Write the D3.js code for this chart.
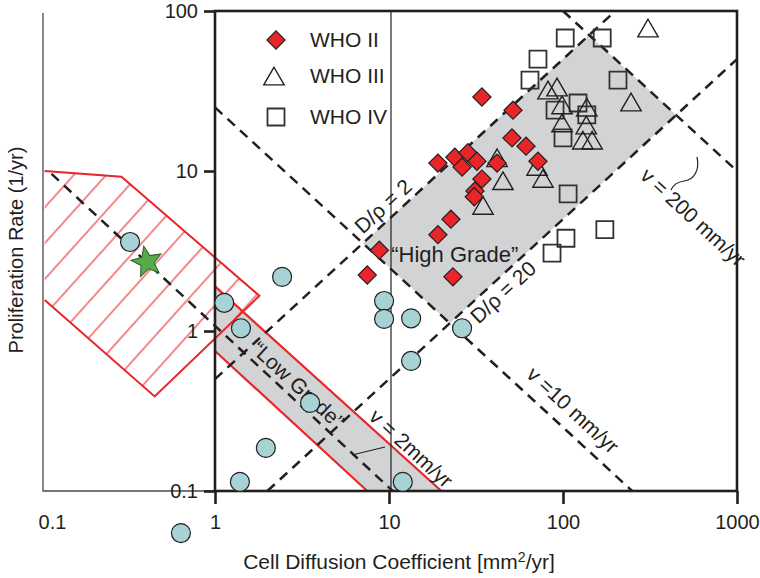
<!DOCTYPE html>
<html>
<head>
<meta charset="utf-8">
<script src="https://cdn.jsdelivr.net/npm/d3@7"></script>
<style>
  body { margin: 0; background: #fff; }
  svg text { font-family: "Liberation Sans", Arial, Helvetica, sans-serif; fill: #231f20; }
</style>
</head>
<body>
<svg id="chart" width="760" height="578"></svg>
<script>
// ---- data: [D (mm^2/yr), rho (1/yr)] ----
const xTicks = [0.1, 1, 10, 100, 1000];
const yTicks = [0.1, 1, 10, 100];

const who2 = [[34.2, 29.0], [51.6, 24.0], [50.9, 16.1], [61.3, 14.3], [71.8, 11.5], [41.8, 11.2],
  [19.1, 11.2], [23.9, 12.2], [28.4, 13.0], [32.0, 11.5], [26.3, 10.6], [34.2, 8.9], [31.2, 7.5],
  [30.9, 6.9], [22.7, 5.0], [19.1, 4.0], [8.8, 3.2], [7.5, 2.24], [23.3, 2.18]];
const who3 = [[308, 78.3], [82, 32.1], [92.4, 33.5], [98.7, 25.9], [137, 25.1], [246, 27.0],
  [98.7, 20.0], [136, 19.4], [130, 15.6], [147, 15.6], [41.8, 12.1], [45.2, 8.7], [34.7, 6.1],
  [70.9, 10.7], [76.7, 9.0]];
const who4 = [[103, 67.8], [168, 67.8], [71.8, 50.1], [64.6, 37.0], [207, 37.0], [90, 24.0],
  [122, 26.6], [137, 22.4], [100, 16.1], [107, 7.2], [174, 4.3], [104, 3.8], [86.5, 3.07]];
const otherCases = [[0.325, 3.6], [1.13, 1.5], [1.41, 1.04], [2.43, 2.18], [9.37, 1.54], [9.37, 1.19],
  [13.4, 1.2], [13.4, 0.65], [26.3, 1.04], [3.52, 0.355], [1.96, 0.186], [1.39, 0.114], [12.0, 0.114],
  [0.637, 0.0546]];
const starCase = [0.407, 2.7];

// regions
const highGrade = [[7.07, 3.54], [141, 70.7], [447, 22.4], [22.4, 1.12]];
const lowGrade = [[1, 1.9], [20, 0.1], [7.5, 0.1], [1, 0.75]];
const hatchZone = [[0.105, 10], [0.29, 9.2], [1.8, 1.66], [0.45, 0.39], [0.105, 1.56]];

// guide lines: D/rho constant (rising), v = 2 sqrt(D rho) constant (falling)
const guideLines = [
  [[1, 0.5], [200, 100]],      // D/rho = 2
  [[2, 0.1], [1000, 50]],      // D/rho = 20
  [[0.115, 9.6], [10.5, 0.1]], // v = 2
  [[1, 25], [250, 0.1]],       // v = 10
  [[100, 100], [1000, 10]]     // v = 200
];

const legendItems = ['WHO II', 'WHO III', 'WHO IV'];

// ---- layout ----
const x = d3.scaleLog().domain([0.1, 1000]).range([41, 737]);
const y = d3.scaleLog().domain([0.1, 100]).range([491, 11]);
const ink = '#231f20', red = '#e8262a', grey = '#d2d3d4';
const ang = Math.atan2(y(1) - y(10), x(10) - x(1)) * 180 / Math.PI;

const svg = d3.select('#chart');
const defs = svg.append('defs');
defs.append('pattern').attr('id', 'hatch').attr('patternUnits', 'userSpaceOnUse')
  .attr('width', 24).attr('height', 24).attr('patternTransform', 'rotate(42)')
  .append('line').attr('x1', 4).attr('y1', 0).attr('x2', 4).attr('y2', 24)
  .attr('stroke', red).attr('stroke-width', 1.1);

const line = d3.line().x(d => x(d[0])).y(d => y(d[1]));
const poly = pts => line(pts) + 'Z';

// grey bands
svg.append('path').attr('d', poly(highGrade)).attr('fill', grey);
svg.append('path').attr('d', poly(lowGrade)).attr('fill', grey);

// hatched region (left side sits on the thin axis, so no red edge there)
svg.append('path').attr('d', poly(hatchZone)).attr('fill', 'url(#hatch)');
svg.append('path').attr('d', line(hatchZone)).attr('fill', 'none')
  .attr('stroke', red).attr('stroke-width', 2);

// low grade red edges
svg.append('path').attr('d', line(lowGrade.slice(0, 2))).attr('stroke', red).attr('stroke-width', 2.2).attr('fill', 'none');
svg.append('path').attr('d', line(lowGrade.slice(2, 4))).attr('stroke', red).attr('stroke-width', 2.2).attr('fill', 'none');

// dashed guides
svg.append('g').selectAll('path').data(guideLines).join('path')
  .attr('d', line).attr('fill', 'none').attr('stroke', ink)
  .attr('stroke-width', 2.5).attr('stroke-dasharray', '10,7');

// thin left axis (0.1 decade) + thin line at D = 10
svg.append('path')
  .attr('d', `M${x(0.1) + 2},${y(100) + 2}V${y(0.1)}H${x(1)}`)
  .attr('fill', 'none').attr('stroke', '#4a4a4a').attr('stroke-width', 1.3);
svg.append('line').attr('x1', x(10) + 2).attr('x2', x(10) + 2).attr('y1', y(100)).attr('y2', y(0.1))
  .attr('stroke', ink).attr('stroke-width', 1.2);

// frame
svg.append('rect').attr('x', x(1)).attr('y', y(100)).attr('width', x(1000) - x(1)).attr('height', y(0.1) - y(100))
  .attr('fill', 'none').attr('stroke', ink).attr('stroke-width', 2.6);

// axes
const gx = svg.append('g').attr('transform', `translate(0,${y(0.1)})`)
  .call(d3.axisBottom(x).tickValues(xTicks).tickFormat(d => d).tickSize(13).tickPadding(11));
const gy = svg.append('g').attr('transform', `translate(${x(1)},0)`)
  .call(d3.axisLeft(y).tickValues(yTicks).tickFormat(d => d).tickSize(11).tickPadding(6));
[gx, gy].forEach(g => {
  g.select('.domain').remove();
  g.selectAll('line').attr('stroke', ink).attr('stroke-width', 2.6);
  g.selectAll('text').attr('font-size', 20).attr('fill', ink);
});
gx.selectAll('.tick').filter(d => d === 0.1).select('line').remove();
gx.selectAll('.tick').filter(d => d === 0.1).select('text').attr('x', 11);

// axis titles
const xt = svg.append('text').attr('x', 399).attr('y', 569).attr('text-anchor', 'middle').attr('font-size', 21)
  .text('Cell Diffusion Coefficient [mm');
xt.append('tspan').attr('font-size', 14).attr('dy', -7).text('2');
xt.append('tspan').attr('dy', 7).text('/yr]');
svg.append('text').attr('transform', 'translate(23,250) rotate(-90)').attr('text-anchor', 'middle')
  .attr('font-size', 20).text('Proliferation Rate (1/yr)');

// annotations
const rotLabels = [
  { t: 'D/\u03c1 = 2', at: [9.24, 6.04], r: -ang },
  { t: 'D/\u03c1 = 20', at: [45.2, 1.75], r: -ang },
  { t: 'v =10 mm/yr', at: [114, 0.321], r: ang },
  { t: 'v = 2mm/yr', at: [13.4, 0.185], r: ang },
  { t: 'v = 200 mm/yr', at: [560, 5.15], r: ang },
  { t: '\u201cLow Grade\u201d', at: [3.0, 0.46], r: ang }
];
svg.append('g').selectAll('text').data(rotLabels).join('text')
  .attr('transform', d => `translate(${x(d.at[0])},${y(d.at[1])}) rotate(${d.r})`)
  .attr('text-anchor', 'middle').attr('dy', '0.35em').attr('font-size', 21).text(d => d.t);
svg.append('text').attr('x', x(10.3)).attr('y', y(2.7)).attr('font-size', 22).text('\u201cHigh Grade\u201d');

// leaders
svg.append('path').attr('d', 'M352,455L385,447').attr('stroke', ink).attr('stroke-width', 1.2).attr('fill', 'none');
svg.append('path').attr('d', 'M697,157C700,170 694,180 684,181C677,182 673,185 671,190')
  .attr('stroke', ink).attr('stroke-width', 1.2).attr('fill', 'none');

// other cases (circles)
svg.append('g').selectAll('circle').data(otherCases).join('circle')
  .attr('cx', d => x(d[0])).attr('cy', d => y(d[1])).attr('r', 9.5)
  .attr('fill', '#a7d3d5').attr('stroke', ink).attr('stroke-width', 1.2);

// star
const starPath = (R, r) => d3.range(10).map(i => {
  const a = (-90 + i * 36) * Math.PI / 180, rr = i % 2 ? r : R;
  return [rr * Math.cos(a), rr * Math.sin(a)];
});
svg.append('path').attr('d', d3.line()(starPath(16, 7)) + 'Z')
  .attr('transform', `translate(${x(starCase[0])},${y(starCase[1])}) rotate(-12)`)
  .attr('fill', '#58ab4a').attr('stroke', '#2d5e2a').attr('stroke-width', 1);

// tumour symbols
const sq = d3.symbol().type(d3.symbolSquare).size(289)();
const tri = d3.symbol().type(d3.symbolTriangle).size(180)();
const dia = d3.symbol().type(d3.symbolSquare).size(165)();

svg.append('g').selectAll('path').data(who4).join('path')
  .attr('d', sq).attr('transform', d => `translate(${x(d[0])},${y(d[1])})`)
  .attr('fill', 'none').attr('stroke', '#333').attr('stroke-width', 1.8);
svg.append('g').selectAll('path').data(who3).join('path')
  .attr('d', tri).attr('transform', d => `translate(${x(d[0])},${y(d[1]) + 3})`)
  .attr('fill', 'none').attr('stroke', ink).attr('stroke-width', 1.4);
svg.append('g').selectAll('path').data(who2).join('path')
  .attr('d', dia).attr('transform', d => `translate(${x(d[0])},${y(d[1])}) rotate(45)`)
  .attr('fill', red).attr('stroke', ink).attr('stroke-width', 1.2);

// legend
const lg = svg.append('g').attr('transform', 'translate(276,0)');
const lgY = [40, 76, 117];
const lgSym = [
  g => g.append('path').attr('d', dia).attr('transform', 'rotate(45)').attr('fill', red).attr('stroke', ink).attr('stroke-width', 1.2),
  g => g.append('path').attr('d', tri).attr('transform', 'translate(-2,3)').attr('fill', 'none').attr('stroke', ink).attr('stroke-width', 1.4),
  g => g.append('path').attr('d', sq).attr('fill', 'none').attr('stroke', '#333').attr('stroke-width', 1.8)
];
legendItems.forEach((t, i) => {
  const g = lg.append('g').attr('transform', `translate(0,${lgY[i]})`);
  lgSym[i](g);
  g.append('text').attr('x', 34).attr('y', 7).attr('font-size', 21).text(t);
});
</script>
</body>
</html>
